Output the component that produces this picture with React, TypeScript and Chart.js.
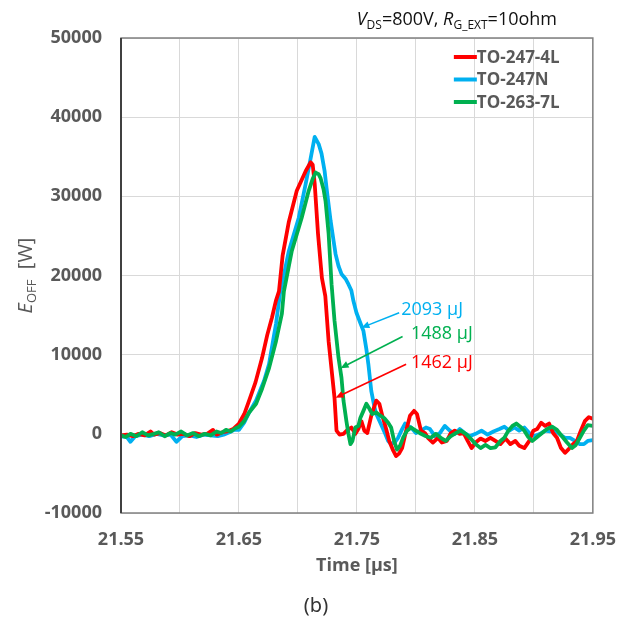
import React, { useEffect, useRef } from "react";
import { Chart, registerables } from "chart.js";

Chart.register(...registerables);

const seriesLabels = ["TO-247-4L", "TO-247N", "TO-263-7L"];
const seriesColors = ["#ff0000", "#00b0f0", "#00b050"];

const redTime = [21.550,21.555,21.560,21.565,21.570,21.575,21.578,21.583,21.588,21.593,21.598,21.603,21.608,21.613,21.618,21.623,21.628,21.631,21.636,21.640,21.645,21.650,21.6545,21.6586,21.664,21.6696,21.674,21.678,21.6813,21.6839,21.687,21.6923,21.699,21.7066,21.7108,21.7125,21.7142,21.717,21.7203,21.7232,21.726,21.731,21.7327,21.7353,21.7386,21.742,21.7453,21.7487,21.7512,21.7538,21.7563,21.7588,21.7622,21.7664,21.769,21.7715,21.7748,21.7774,21.7807,21.7832,21.7857,21.7883,21.7917,21.795,21.7984,21.8009,21.8043,21.8077,21.8102,21.8144,21.8186,21.822,21.8262,21.8296,21.8329,21.8371,21.8405,21.8439,21.8472,21.8506,21.8548,21.859,21.8632,21.8674,21.8716,21.8759,21.8801,21.8843,21.8876,21.8919,21.8961,21.8995,21.9028,21.9062,21.9096,21.9129,21.9163,21.9196,21.923,21.9264,21.9297,21.9331,21.9365,21.9398,21.9432,21.9466,21.95];
const redPower = [-200,-100,-300,0,-200,300,-100,100,-200,200,-100,0,-300,100,-100,0,500,-100,200,300,600,1300,2500,4200,6500,9600,12500,14700,16800,18000,22500,26800,30700,33200,34300,34000,31600,25300,19700,17400,11700,4550,400,-100,0,500,800,0,600,1600,400,100,2300,4200,3800,2300,600,-900,-2100,-2800,-2500,-1800,400,2300,2900,2500,400,100,-500,-1100,-500,-1100,-900,100,400,0,100,-900,-1800,-1100,-600,-900,-500,-900,-1300,-600,-1300,-900,-1500,-1800,-900,400,600,1400,1000,1300,100,-500,-1800,-2400,-1900,-1300,-900,400,1600,2100,1900];

const blueTime = [21.550,21.555,21.558,21.562,21.568,21.574,21.580,21.586,21.592,21.597,21.602,21.608,21.614,21.620,21.626,21.632,21.637,21.642,21.646,21.650,21.6544,21.6586,21.6645,21.6713,21.6755,21.6814,21.6848,21.6923,21.7007,21.7066,21.7104,21.7142,21.7176,21.72,21.7226,21.7243,21.7277,21.7302,21.7319,21.7344,21.7369,21.7403,21.7428,21.7453,21.747,21.7496,21.7529,21.7555,21.758,21.7597,21.7622,21.7647,21.7664,21.7698,21.774,21.7765,21.779,21.7824,21.7849,21.7883,21.7908,21.7933,21.7959,21.8,21.8043,21.8085,21.8119,21.8161,21.8203,21.8245,21.8287,21.8329,21.8371,21.8413,21.8455,21.8506,21.8556,21.8607,21.8658,21.8708,21.875,21.8792,21.8835,21.8876,21.8919,21.8961,21.9003,21.9053,21.9096,21.9138,21.918,21.9222,21.9264,21.9306,21.9348,21.939,21.9424,21.9457,21.95];
const bluePower = [-300,-400,-1000,-300,-100,-300,0,-200,-100,-1000,-300,-200,-400,-100,-200,-300,-100,200,500,500,1400,2700,4200,6700,8800,13900,17700,23100,27300,31600,34500,37500,36600,35400,33200,31000,26900,24400,22700,21200,20200,19600,18900,18100,16800,15300,14000,13000,10700,8800,5400,3500,2500,1400,0,-900,-1300,-1000,-500,600,1300,1000,800,100,400,800,600,-300,100,1000,400,0,600,100,-300,0,400,-100,300,600,900,400,800,400,800,100,-300,0,400,300,400,-100,-500,-500,-900,-1300,-1300,-900,-800];

const greenTime = [21.550,21.554,21.558,21.563,21.568,21.573,21.578,21.582,21.587,21.592,21.596,21.601,21.606,21.611,21.616,21.621,21.626,21.631,21.635,21.639,21.643,21.647,21.650,21.6544,21.6586,21.6645,21.6696,21.6755,21.6814,21.6864,21.6881,21.6948,21.7032,21.7091,21.7125,21.715,21.7175,21.7192,21.7217,21.7234,21.726,21.7285,21.731,21.7344,21.7369,21.7386,21.7411,21.7428,21.7445,21.7462,21.7487,21.7512,21.7529,21.7555,21.758,21.7605,21.763,21.7664,21.7698,21.7731,21.7765,21.779,21.7815,21.784,21.7866,21.7891,21.7925,21.7959,21.8,21.8043,21.8085,21.8127,21.8169,21.8211,21.8253,21.8296,21.8338,21.838,21.8422,21.8464,21.8506,21.8548,21.859,21.8632,21.8674,21.8716,21.875,21.8784,21.8818,21.8851,21.8885,21.8919,21.8952,21.8986,21.9028,21.907,21.9112,21.9154,21.9196,21.9238,21.9281,21.9323,21.9356,21.939,21.9424,21.9457,21.95];
const greenPower = [-200,-400,0,-300,200,-200,0,200,-300,100,-100,300,-200,100,-300,0,-200,300,100,500,300,700,900,1600,2700,3800,5700,8300,11700,15200,18000,23100,27300,30700,32200,33000,32800,32300,30900,29400,25300,18900,14300,9600,7100,4200,1600,0,-1300,-900,800,1000,2000,2900,3800,3200,2500,2700,2300,2000,1400,800,-900,-2000,-1500,-500,400,800,400,0,-300,-500,0,-500,-900,-300,100,400,0,-600,-1300,-1800,-1400,-1800,-1700,-900,-500,400,1000,1300,900,400,-400,-900,-400,100,600,900,500,-300,-1100,-1800,-1400,-500,400,1100,1000];

const xTickValues = [21.55, 21.6, 21.65, 21.7, 21.75, 21.8, 21.85, 21.9, 21.95];
const xLabelValues = [21.55, 21.65, 21.75, 21.85, 21.95];
const yTickMin = -10000;
const yTickMax = 50000;
const yTickStep = 10000;

const energyLabels = ["2093 μJ", "1488 μJ", "1462 μJ"];
const energySeries = [1, 2, 0];
const arrowTipTime = [21.7538, 21.7361, 21.7319];
const arrowTipPower = [13400, 8300, 4550];
const arrowTailTime = [21.7858, 21.7887, 21.7917];
const arrowTailPower = [15300, 12300, 8800];
const energyTextTime = [21.7875, 21.7958, 21.7958];
const energyTextPower = [15600, 12600, 8950];

const TICK_COLOR = "#595959";
const BASE_FONT = "'Open Sans', 'Noto Sans', sans-serif";

type Part = { text: string; font: string; dy?: number };

function drawParts(ctx: CanvasRenderingContext2D, parts: Part[], x: number, y: number, align: "left" | "center" | "right") {
  let total = 0;
  for (const p of parts) {
    ctx.font = p.font;
    total += ctx.measureText(p.text).width;
  }
  let cx = align === "left" ? x : align === "center" ? x - total / 2 : x - total;
  ctx.textAlign = "left";
  ctx.textBaseline = "alphabetic";
  for (const p of parts) {
    ctx.font = p.font;
    ctx.fillText(p.text, cx, y + (p.dy || 0));
    cx += ctx.measureText(p.text).width;
  }
}

const decorPlugin = {
  id: "decor",
  afterDraw(chart: any) {
    const ctx: CanvasRenderingContext2D = chart.ctx;
    const area = chart.chartArea;
    const xs = chart.scales.x;
    const ys = chart.scales.y;
    ctx.save();

    // plot frame
    ctx.strokeStyle = "#808080";
    ctx.lineWidth = 1.5;
    ctx.strokeRect(area.left, area.top, area.right - area.left, area.bottom - area.top);
    ctx.strokeStyle = "#404040";
    ctx.lineWidth = 2;
    ctx.beginPath();
    ctx.moveTo(area.left, area.top);
    ctx.lineTo(area.left, area.bottom);
    ctx.stroke();

    // legend
    const ds = chart.data.datasets;
    const legendOrder = [0, 1, 2];
    legendOrder.forEach((di, i) => {
      const yy = area.top + 19 + i * 22.5;
      const x0 = area.right - 139;
      ctx.strokeStyle = ds[di].borderColor;
      ctx.lineWidth = 4;
      ctx.beginPath();
      ctx.moveTo(x0, yy);
      ctx.lineTo(x0 + 23, yy);
      ctx.stroke();
      ctx.fillStyle = TICK_COLOR;
      ctx.font = `bold 17px ${BASE_FONT}`;
      ctx.textAlign = "left";
      ctx.textBaseline = "middle";
      ctx.fillText(ds[di].label, x0 + 23, yy + 1);
    });

    // header
    ctx.fillStyle = "#111";
    drawParts(ctx, [
      { text: "V", font: `italic 18px ${BASE_FONT}` },
      { text: "DS", font: `12px ${BASE_FONT}`, dy: 4 },
      { text: "=800V, ", font: `18px ${BASE_FONT}` },
      { text: "R", font: `italic 18px ${BASE_FONT}` },
      { text: "G_EXT", font: `12px ${BASE_FONT}`, dy: 4 },
      { text: "=10ohm", font: `18px ${BASE_FONT}` },
    ], 557, 25, "right");

    // y title
    ctx.save();
    ctx.translate(32, (area.top + area.bottom) / 2);
    ctx.rotate(-Math.PI / 2);
    ctx.fillStyle = TICK_COLOR;
    drawParts(ctx, [
      { text: "E", font: `italic 20px ${BASE_FONT}` },
      { text: "OFF", font: `13px ${BASE_FONT}`, dy: 4 },
      { text: "  [W]", font: `20px ${BASE_FONT}` },
    ], 0, 0, "center");
    ctx.restore();

    // x title
    ctx.fillStyle = TICK_COLOR;
    drawParts(ctx, [{ text: "Time [μs]", font: `bold 18px ${BASE_FONT}` }], (area.left + area.right) / 2, 571, "center");

    // caption
    ctx.fillStyle = "#333";
    drawParts(ctx, [{ text: "(b)", font: `20px 'Noto Sans', sans-serif` }], 316, 612, "center");

    // energy annotations
    energyLabels.forEach((lab, i) => {
      const color = seriesColors[energySeries[i]];
      const tx = xs.getPixelForValue(arrowTailTime[i]);
      const ty = ys.getPixelForValue(arrowTailPower[i]);
      const hx = xs.getPixelForValue(arrowTipTime[i]);
      const hy = ys.getPixelForValue(arrowTipPower[i]);
      const ang = Math.atan2(hy - ty, hx - tx);
      const hl = 8;
      const hw = 3.5;
      ctx.strokeStyle = color;
      ctx.fillStyle = color;
      ctx.lineWidth = 1.6;
      ctx.beginPath();
      ctx.moveTo(tx, ty);
      ctx.lineTo(hx - Math.cos(ang) * hl * 0.8, hy - Math.sin(ang) * hl * 0.8);
      ctx.stroke();
      ctx.beginPath();
      ctx.moveTo(hx, hy);
      ctx.lineTo(hx - Math.cos(ang) * hl - Math.sin(ang) * hw, hy - Math.sin(ang) * hl + Math.cos(ang) * hw);
      ctx.lineTo(hx - Math.cos(ang) * hl + Math.sin(ang) * hw, hy - Math.sin(ang) * hl - Math.cos(ang) * hw);
      ctx.closePath();
      ctx.fill();
      const lx = xs.getPixelForValue(energyTextTime[i]);
      const ly = ys.getPixelForValue(energyTextPower[i]);
      ctx.font = `18px ${BASE_FONT}`;
      ctx.textAlign = "left";
      ctx.textBaseline = "middle";
      ctx.fillText(lab, lx, ly);
    });

    ctx.restore();
  },
};

function makePoints(t: number[], v: number[]) {
  const n = Math.min(t.length, v.length);
  const out: { x: number; y: number }[] = [];
  for (let i = 0; i < n; i++) out.push({ x: t[i], y: v[i] });
  return out;
}

export default function App() {
  const ref = useRef<HTMLCanvasElement | null>(null);

  useEffect(() => {
    if (!ref.current) return;
    const tickFont = { family: BASE_FONT, size: 18, weight: "bold" as const };
    const chart = new Chart(ref.current, {
      type: "line",
      data: {
        datasets: [
          { label: seriesLabels[0], data: makePoints(redTime, redPower), borderColor: seriesColors[0], order: 1 },
          { label: seriesLabels[1], data: makePoints(blueTime, bluePower), borderColor: seriesColors[1], order: 2 },
          { label: seriesLabels[2], data: makePoints(greenTime, greenPower), borderColor: seriesColors[2], order: 0 },
        ],
      },
      options: {
        responsive: false,
        animation: false,
        parsing: false,
        normalized: true,
        layout: { padding: { top: 38, right: 36, bottom: 0, left: 0 } },
        plugins: { legend: { display: false }, tooltip: { enabled: false } },
        elements: {
          point: { radius: 0 },
          line: { borderWidth: 3.8, tension: 0, borderJoinStyle: "round", borderCapStyle: "round" },
        },
        scales: {
          x: {
            type: "linear",
            min: xTickValues[0],
            max: xTickValues[xTickValues.length - 1],
            afterBuildTicks: (s: any) => {
              s.ticks = xTickValues.map((v) => ({ value: v }));
            },
            afterFit: (s: any) => {
              s.height = 106;
            },
            ticks: {
              autoSkip: false,
              maxRotation: 0,
              minRotation: 0,
              padding: 16,
              color: TICK_COLOR,
              font: tickFont,
              callback: (v: any) =>
                xLabelValues.some((l) => Math.abs(l - Number(v)) < 1e-6) ? Number(v).toFixed(2) : "",
            },
            grid: { color: "#d9d9d9", lineWidth: 1, drawTicks: false },
            border: { display: false },
          },
          y: {
            type: "linear",
            min: yTickMin,
            max: yTickMax,
            afterFit: (s: any) => {
              s.width = 121;
            },
            ticks: {
              stepSize: yTickStep,
              padding: 19,
              color: TICK_COLOR,
              font: tickFont,
              callback: (v: any) => String(v),
            },
            grid: { color: "#d9d9d9", lineWidth: 1, drawTicks: false },
            border: { display: false },
          },
        },
      },
      plugins: [decorPlugin],
    } as any);
    return () => chart.destroy();
  }, []);

  return (
    <div style={{ position: "absolute", left: 0, top: 0, width: 632, height: 619, background: "#fff" }}>
      <canvas ref={ref} width={632} height={619} style={{ display: "block" }} />
    </div>
  );
}
